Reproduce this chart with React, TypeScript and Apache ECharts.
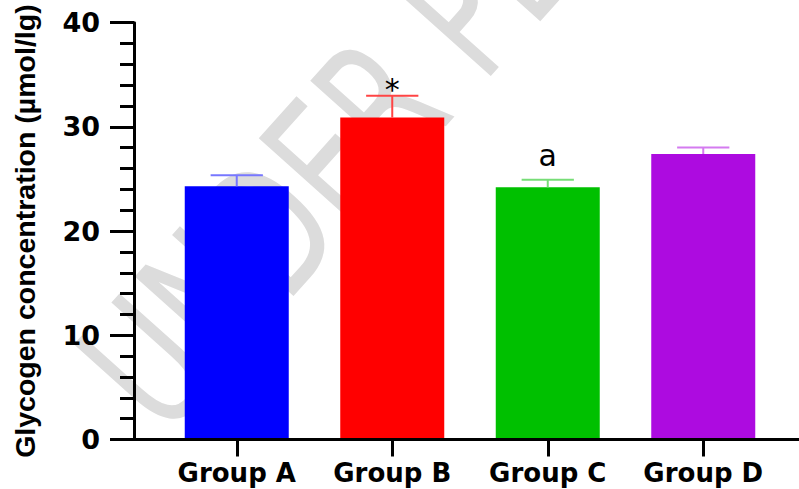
import React, { useEffect, useRef } from "react";
import * as echarts from "echarts";

const categories = ["Group A", "Group B", "Group C", "Group D"];
const means = [24.3, 30.9, 24.2, 27.4];
const errors = [1.05, 2.1, 0.72, 0.63];
const annotations = ["", "*", "a", ""];
const barColors = ["#0000ff", "#ff0000", "#00c000", "#ad0be0"];
const errColors = ["#7777ff", "#ff4444", "#77dd77", "#d47bf0"];
const yTitle = "Glycogen concentration (µmol/lg)";
const watermark = "UNDER PEER";

// vertical offset (px) of each annotation glyph's middle above the error cap
const annLift: Record<string, number> = { "*": 6, a: 24 };

export default function App() {
  const ref = useRef<HTMLDivElement>(null);
  useEffect(() => {
    if (!ref.current) return;
    const chart = echarts.init(ref.current, null, { renderer: "svg" });
    const option: any = {
      animation: false,
      backgroundColor: "#ffffff",
      grid: { left: 159, right: 18, top: 22.7, bottom: 49.5 },
      xAxis: {
        type: "category",
        data: categories,
        axisLine: { show: false },
        axisTick: {
          show: true,
          alignWithLabel: true,
          length: 17,
          lineStyle: { color: "#000", width: 3 },
        },
        axisLabel: {
          interval: 0,
          hideOverlap: false,
          color: "#000",
          fontFamily: "DejaVu Sans",
          fontWeight: "bold",
          fontSize: 26,
          margin: 20,
        },
      },
      yAxis: {
        type: "value",
        min: 0,
        max: 40,
        interval: 10,
        offset: 25,
        axisLine: { show: true, lineStyle: { color: "#000", width: 3 } },
        axisTick: { show: true, length: 24, lineStyle: { color: "#000", width: 3 } },
        minorTick: { show: true, splitNumber: 5, length: 14, lineStyle: { color: "#000", width: 3 } },
        splitLine: { show: false },
        axisLabel: {
          color: "#000",
          fontFamily: "DejaVu Sans",
          fontWeight: "bold",
          fontSize: 27,
          margin: 34,
        },
        name: yTitle,
        nameLocation: "middle",
        nameGap: 95,
        nameTextStyle: {
          color: "#000",
          fontFamily: "Liberation Sans",
          fontWeight: "bold",
          fontSize: 28.5,
        },
      },
      series: [
        {
          type: "bar",
          barWidth: 104,
          z: 2,
          data: means.map((v, i) => ({ value: v, itemStyle: { color: barColors[i] } })),
        },
        {
          type: "custom",
          z: 3,
          data: means.map((m, i) => [i, m, errors[i]]),
          renderItem: (params: any, api: any) => {
            const i = api.value(0);
            const m = api.value(1);
            const e = api.value(2);
            const base = api.coord([i, m]);
            const top = api.coord([i, m + e]);
            const bandW = api.size([1, 0])[0];
            const capHalf = bandW * 0.168;
            const color = errColors[i];
            const children: any[] = [
              {
                type: "line",
                shape: { x1: base[0], y1: base[1], x2: top[0], y2: top[1] },
                style: { stroke: color, lineWidth: 2 },
              },
              {
                type: "line",
                shape: { x1: top[0] - capHalf, y1: top[1], x2: top[0] + capHalf, y2: top[1] },
                style: { stroke: color, lineWidth: 2 },
              },
            ];
            const ann = annotations[i];
            if (ann) {
              children.push({
                type: "text",
                x: top[0],
                y: top[1] - (annLift[ann] || 16),
                style: {
                  text: ann,
                  fontSize: 30,
                  fontFamily: "DejaVu Sans",
                  fill: "#000",
                  align: "center",
                  verticalAlign: "middle",
                },
              });
            }
            return { type: "group", children };
          },
        },
      ],
    };
    chart.setOption(option);
    const y0 = chart.convertToPixel({ yAxisIndex: 0 }, 0) as number;
    chart.setOption({
      graphic: [
        {
          type: "text",
          x: 118,
          y: 398,
          rotation: 0.84,
          scaleX: 0.68,
          z: 0,
          silent: true,
          style: {
            text: watermark,
            fontFamily: "DejaVu Sans",
            fontSize: 180,
            fill: "#dcdcdc",
            align: "left",
            verticalAlign: "middle",
          },
        },
        {
          type: "line",
          z: 10,
          shape: { x1: 110, y1: y0, x2: 799, y2: y0 },
          style: { stroke: "#000", lineWidth: 3 },
        },
      ],
    });
    return () => chart.dispose();
  }, []);
  return (
    <div
      ref={ref}
      style={{ position: "fixed", left: 0, top: 0, width: 799, height: 489 }}
    />
  );
}
